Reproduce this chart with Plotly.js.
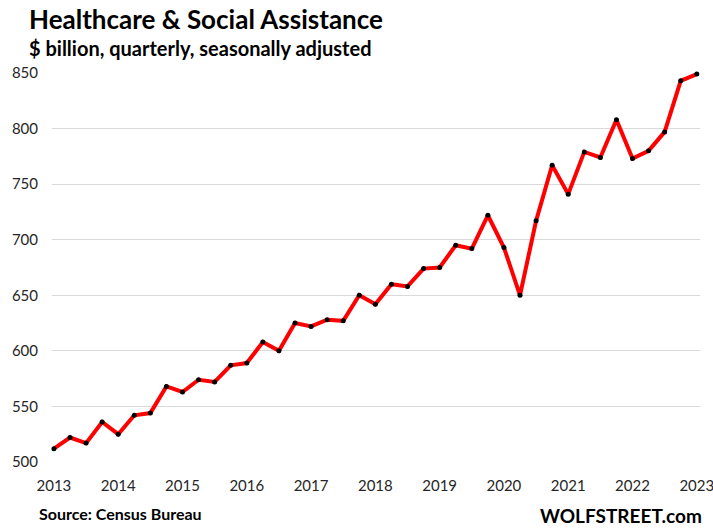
<!DOCTYPE html>
<html>
<head>
<meta charset="utf-8">
<script src="https://cdn.plot.ly/plotly-3.0.1.min.js"></script>
<style>
html,body{margin:0;padding:0;background:#fff;}
#chart{width:713px;height:529px;}
</style>
</head>
<body>
<div id="chart"></div>
<script>
const quarters = [
  2013.00, 2013.25, 2013.50, 2013.75,
  2014.00, 2014.25, 2014.50, 2014.75,
  2015.00, 2015.25, 2015.50, 2015.75,
  2016.00, 2016.25, 2016.50, 2016.75,
  2017.00, 2017.25, 2017.50, 2017.75,
  2018.00, 2018.25, 2018.50, 2018.75,
  2019.00, 2019.25, 2019.50, 2019.75,
  2020.00, 2020.25, 2020.50, 2020.75,
  2021.00, 2021.25, 2021.50, 2021.75,
  2022.00, 2022.25, 2022.50, 2022.75,
  2023.00
];
const values = [
  512, 522, 517, 536,
  525, 542, 544, 568,
  563, 574, 572, 587,
  589, 608, 600, 625,
  622, 628, 627, 650,
  642, 660, 658, 674,
  675, 695, 692, 722,
  693, 650, 717, 767,
  741, 779, 774, 808,
  773, 780, 797, 843,
  849
];
const xTicks = [2013, 2014, 2015, 2016, 2017, 2018, 2019, 2020, 2021, 2022, 2023];
const yTicks = [500, 550, 600, 650, 700, 750, 800, 850];

const FONT = "Lato, 'Open Sans', sans-serif";

const trace = {
  x: quarters,
  y: values,
  type: 'scatter',
  mode: 'lines+markers',
  line: {color: '#ff0000', width: 4},
  marker: {color: '#000000', size: 5},
  cliponaxis: false,
  hoverinfo: 'x+y'
};

const layout = {
  width: 713,
  height: 529,
  margin: {l: 52, r: 13, t: 73, b: 67},
  paper_bgcolor: '#ffffff',
  plot_bgcolor: '#ffffff',
  showlegend: false,
  font: {family: FONT, color: '#262626', size: 15},
  xaxis: {
    range: [2012.97, 2023.05],
    tickmode: 'array',
    tickvals: xTicks,
    ticktext: xTicks.map(String),
    showgrid: false,
    zeroline: false,
    showline: false,
    ticks: '',
    ticklabelstandoff: 13,
    ticklabeloverflow: 'allow',
    tickfont: {family: FONT, size: 15, color: '#262626'}
  },
  yaxis: {
    range: [500, 850],
    tickmode: 'array',
    tickvals: yTicks,
    ticktext: yTicks.map(String),
    showgrid: true,
    gridcolor: '#d9d9d9',
    gridwidth: 1,
    zeroline: false,
    showline: false,
    ticks: '',
    ticklabelstandoff: 13,
    ticklabeloverflow: 'allow',
    tickfont: {family: FONT, size: 15, color: '#262626'}
  },
  annotations: [
    {text: '<b>Healthcare &amp; Social Assistance</b>', xref: 'paper', yref: 'paper',
     x: -52/648, y: 1 + (73-19)/389, xanchor: 'left', yanchor: 'middle', showarrow: false,
     xshift: 27, font: {family: FONT, size: 26, color: '#000000'}},
    {text: '<b>$ billion, quarterly, seasonally adjusted</b>', xref: 'paper', yref: 'paper',
     x: -52/648, y: 1 + (73-48)/389, xanchor: 'left', yanchor: 'middle', showarrow: false,
     xshift: 27, font: {family: FONT, size: 20, color: '#000000'}},
    {text: '<b>Source: Census Bureau</b>', xref: 'paper', yref: 'paper',
     x: -52/648, y: -(513-462)/389, xanchor: 'left', yanchor: 'middle', showarrow: false,
     xshift: 37, font: {family: FONT, size: 16, color: '#000000'}},
    {text: '<b>WOLFSTREET.com</b>', xref: 'paper', yref: 'paper',
     x: 1, y: -(515-462)/389, xanchor: 'right', yanchor: 'middle', showarrow: false,
     xshift: 4, font: {family: FONT, size: 19, color: '#000000'}}
  ]
};

Plotly.newPlot('chart', [trace], layout, {displayModeBar: false, staticPlot: true});
</script>
</body>
</html>
